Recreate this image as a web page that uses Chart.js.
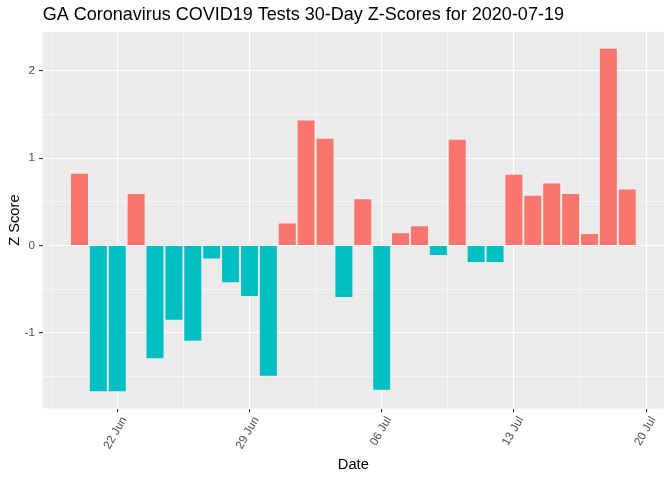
<!DOCTYPE html>
<html>
<head>
<meta charset="utf-8">
<script src="https://cdn.jsdelivr.net/npm/chart.js@4"></script>
<style>
  html, body { margin: 0; padding: 0; background: #ffffff; }
  #wrap { width: 672px; height: 480px; }
</style>
</head>
<body>
<div id="wrap"><canvas id="c" width="672" height="480"></canvas></div>
<script>
// ---- data ----
const chartTitle = 'GA Coronavirus COVID19 Tests 30-Day Z-Scores for 2020-07-19';
const dates = [
  '2020-06-20','2020-06-21','2020-06-22','2020-06-23','2020-06-24','2020-06-25',
  '2020-06-26','2020-06-27','2020-06-28','2020-06-29','2020-06-30','2020-07-01',
  '2020-07-02','2020-07-03','2020-07-04','2020-07-05','2020-07-06','2020-07-07',
  '2020-07-08','2020-07-09','2020-07-10','2020-07-11','2020-07-12','2020-07-13',
  '2020-07-14','2020-07-15','2020-07-16','2020-07-17','2020-07-18','2020-07-19'
];
const zScores = [
  0.82, -1.67, -1.67, 0.59, -1.29, -0.85,
  -1.09, -0.15, -0.42, -0.58, -1.49, 0.25,
  1.43, 1.22, -0.59, 0.53, -1.65, 0.14,
  0.22, -0.11, 1.21, -0.19, -0.19, 0.81,
  0.57, 0.71, 0.59, 0.13, 2.25, 0.64
];
const xTickDates = ['2020-06-22','2020-06-29','2020-07-06','2020-07-13','2020-07-20'];
const yTickValues = [-1, 0, 1, 2];
const monthNames = ['Jan','Feb','Mar','Apr','May','Jun','Jul','Aug','Sep','Oct','Nov','Dec'];

// ---- helpers ----
function dayNum(s) {
  const p = s.split('-').map(Number);
  return Date.UTC(p[0], p[1] - 1, p[2]) / 86400000;
}
function fmtDay(d) {
  const dt = new Date(Math.round(d) * 86400000);
  const dd = String(dt.getUTCDate()).padStart(2, '0');
  return dd + ' ' + monthNames[dt.getUTCMonth()];
}

const POS = '#F8766D', NEG = '#00BFC4';
const points = dates.map((d, i) => ({ x: dayNum(d), y: zScores[i] }));
const colors = zScores.map(v => v >= 0 ? POS : NEG);

// ggplot-like expansion (5%) of the data range including bar width 0.9
const xs = points.map(p => p.x);
const xLo = Math.min(...xs) - 0.45, xHi = Math.max(...xs) + 0.45;
const xPad = (xHi - xLo) * 0.05;
const yLo = Math.min(...zScores), yHi = Math.max(...zScores);
const yPad = (yHi - yLo) * 0.05;

const xMajor = xTickDates.map(dayNum);
const xMinor = [xMajor[0] - 3.5].concat(xMajor.slice(0, -1).map((v, i) => (v + xMajor[i + 1]) / 2));
const yMinor = yTickValues.map(v => v - 0.5).concat([yTickValues[yTickValues.length - 1] + 0.5]);

function buildTicks(major, minor, lo, hi) {
  const t = major.map(v => ({ value: v, minor: false }))
    .concat(minor.map(v => ({ value: v, minor: true })))
    .filter(t => t.value >= lo && t.value <= hi);
  t.sort((a, b) => a.value - b.value);
  return t;
}

const FONT = '"Liberation Sans", Arial, sans-serif';

const panelBg = {
  id: 'panelBg',
  beforeDraw(chart) {
    const { ctx, chartArea: a } = chart;
    ctx.save();
    ctx.fillStyle = '#EBEBEB';
    ctx.fillRect(a.left, a.top, a.right - a.left, a.bottom - a.top);
    ctx.restore();
  }
};

new Chart(document.getElementById('c'), {
  type: 'bar',
  data: {
    datasets: [{
      data: points,
      backgroundColor: colors,
      borderWidth: 0,
      barPercentage: 0.9,
      categoryPercentage: 1.0
    }]
  },
  plugins: [panelBg],
  options: {
    responsive: false,
    animation: false,
    devicePixelRatio: 1,
    layout: { padding: { left: 0, right: 8, top: 0, bottom: 0 } },
    plugins: {
      legend: { display: false },
      tooltip: { enabled: false },
      title: {
        display: true,
        text: chartTitle,
        align: 'start',
        fullSize: false,
        color: '#000000',
        font: { family: FONT, size: 18, weight: 'normal' },
        padding: { top: 4.66, bottom: 5.44 }
      }
    },
    scales: {
      x: {
        type: 'linear',
        offset: false,
        min: xLo - xPad,
        max: xHi + xPad,
        afterBuildTicks(scale) { scale.ticks = buildTicks(xMajor, xMinor, scale.min, scale.max); },
        afterFit(scale) { scale.height = 71.5; },
        border: { display: false },
        grid: {
          offset: false,
          color: '#FFFFFF',
          lineWidth: c => (c.tick && c.tick.minor) ? 0.55 : 1.1,
          tickColor: c => (c.tick && c.tick.minor) ? 'rgba(0,0,0,0)' : '#333333',
          tickWidth: 1.1,
          tickLength: 3.7,
          drawTicks: true
        },
        ticks: {
          autoSkip: false,
          minRotation: 60,
          maxRotation: 60,
          padding: 2,
          labelOffset: 7,
          color: '#4D4D4D',
          font: { family: FONT, size: 11.7 },
          callback(value, index, ticks) { return ticks[index].minor ? '' : fmtDay(value); }
        },
        title: {
          display: true,
          text: 'Date',
          color: '#000000',
          font: { family: FONT, size: 14.67 },
          padding: { top: 0, bottom: 6.3 }
        }
      },
      y: {
        type: 'linear',
        min: yLo - yPad,
        max: yHi + yPad,
        afterBuildTicks(scale) { scale.ticks = buildTicks(yTickValues, yMinor, scale.min, scale.max); },
        afterFit(scale) { scale.width = 42.7; },
        border: { display: false },
        grid: {
          color: '#FFFFFF',
          lineWidth: c => (c.tick && c.tick.minor) ? 0.55 : 1.1,
          tickColor: c => (c.tick && c.tick.minor) ? 'rgba(0,0,0,0)' : '#333333',
          tickWidth: 1.1,
          tickLength: 3.7,
          drawTicks: true
        },
        ticks: {
          autoSkip: false,
          padding: 4,
          color: '#4D4D4D',
          font: { family: FONT, size: 11.7 },
          callback(value, index, ticks) { return ticks[index].minor ? '' : String(value); }
        },
        title: {
          display: true,
          text: 'Z Score',
          color: '#000000',
          font: { family: FONT, size: 14.67 },
          padding: { top: 5.7, bottom: 0 }
        }
      }
    }
  }
});
</script>
</body>
</html>
